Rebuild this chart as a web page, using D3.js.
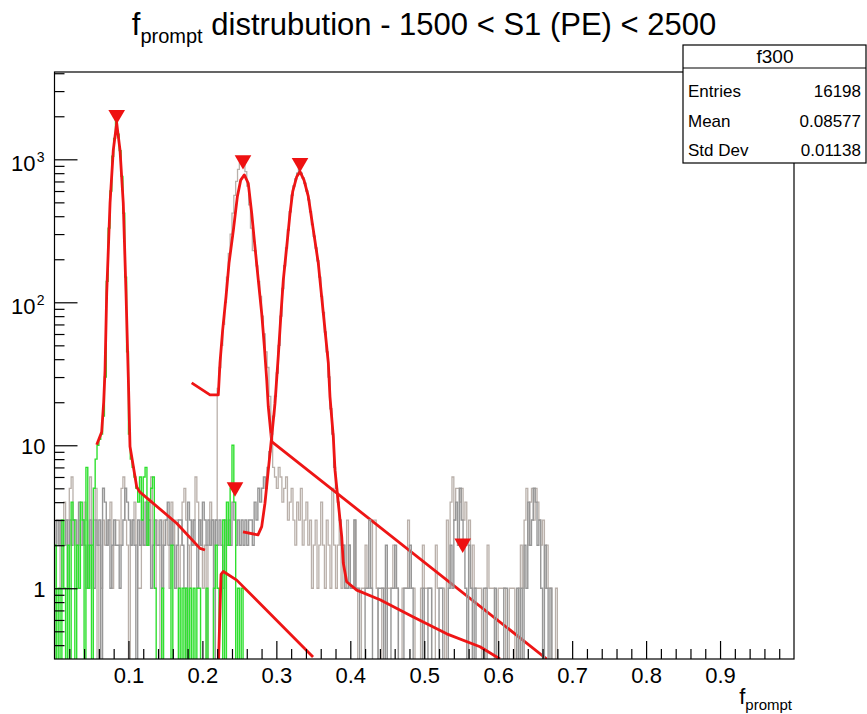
<!DOCTYPE html>
<html>
<head>
<meta charset="utf-8">
<script src="https://cdn.jsdelivr.net/npm/d3@7"></script>
<style>
  body { margin: 0; background: #fff; }
  text { font-family: "Liberation Sans", Arial, Helvetica, sans-serif; }
</style>
</head>
<body>
<svg id="chart"></svg>
<script>
// histogram bins: width 0.0025 starting at 0
const binWidth = 0.0025;

const greenCounts = [
  2, 0, 1, 0, 3, 1, 0, 2, 0, 4, 3, 0, 2, 1, 4, 3, 0, 7, 1, 2, 0, 5,
  8, 10, 11, 12, 16, 30, 140, 330, 600, 1050, 1400, 2000, 1500, 1150, 760, 420, 150, 45, 12, 8, 7, 6, 5,
  4, 6, 3, 6, 7, 2, 4, 5, 6, 1,
  0, 0, 0, 1, 0, 0, 0, 0, 2, 0,
  0, 0, 1, 0, 1, 0, 1, 0, 1, 0,
  1, 0, 1, 1, 0, 0, 0, 1, 0, 0,
  0, 1, 2, 1, 0, 0, 3, 0, 4, 2,
  5, 10, 4, 0, 1, 0, 1, 0, 0
];

const lightCounts = [
  2, 3, 3, 1, 2, 4, 2, 3, 5, 6, 3, 2, 1, 3, 2, 2, 4, 3, 1, 6,
  2, 3, 5, 0, 2, 1, 3, 2, 2, 3, 4, 1, 2, 3, 3, 2, 5, 6, 3, 2,
  0, 2, 3, 4, 2, 1, 1, 3, 2, 2, 4, 3, 6, 2, 1, 3, 2, 0, 2, 3,
  3, 2, 1, 4, 2, 3, 3, 1, 2, 4, 5, 3, 2, 1, 2, 3, 6, 4, 2, 3,
  1, 2, 0, 2, 4, 3, 2, 3,
  25, 35, 50, 70, 100, 150, 220, 300, 420, 560, 700, 850, 960, 1000, 950, 820,
  650, 480, 330, 230, 230, 180, 140, 110, 80, 60, 45, 35, 22, 12, 7,
  6, 5, 7, 6, 4, 5, 6, 3, 4, 5, 3, 2, 4, 3, 5, 2, 3, 4, 2, 3, 1,
  2, 3, 1, 2, 4, 2, 1, 3, 2, 1, 5, 2, 1, 2, 3, 1, 2, 1, 3, 2,
  1, 1, 3, 1, 0, 0, 1, 1, 2, 1, 1, 1, 3, 3, 1, 0, 0, 1, 1, 1,
  1, 1, 1, 2, 1, 1, 0, 0, 1, 1, 1, 3, 1, 1, 1, 0, 0, 0, 1, 2,
  1, 1, 1, 1, 0, 0, 2, 1, 1, 1, 1, 0, 3, 1,
  4, 6, 3, 5, 5, 4, 5, 3, 4, 2, 3, 1, 2, 1,
  1, 1, 1, 0, 0, 1, 2, 1, 1, 1, 0, 0, 1, 1, 1, 1, 0, 0, 1, 1, 1, 0, 0, 1,
  2, 1, 3, 5, 2, 4, 5, 3, 5, 4, 3, 2, 3, 1, 2, 1,
  1, 0, 0, 1, 0, 0, 0, 0, 0, 0, 0, 0
];

const darkCounts = [
  2, 3, 2, 3, 2, 2, 3, 1, 3, 2, 3, 3, 2, 4, 2, 3, 2, 1, 2, 3,
  2, 1, 3, 2, 3, 0, 5, 4, 2, 3, 1, 2, 3, 2, 2, 1, 2, 3, 5, 4,
  3, 2, 3, 2, 0, 3, 2, 3, 2, 4, 2, 3, 1, 2, 3, 2, 2, 3, 1, 2,
  3, 4, 2, 3, 2, 1, 2, 3, 3, 2, 1, 0, 4, 3, 2, 3, 2, 1, 3, 2,
  4, 3, 2, 3, 2, 3, 0, 3,
  2, 3, 2, 1, 3, 2, 3, 2, 4, 3, 2, 3, 2, 3, 2, 3, 2, 3, 3, 2, 4, 3, 5, 4,
  5, 6, 5, 7, 9, 12, 16, 22, 32, 50, 80, 125, 180, 240, 320, 430, 560, 650, 730, 800,
  900, 800, 740, 680, 600, 520, 430, 350, 290, 240, 195, 150, 110, 85, 62, 45, 30, 18, 12, 7,
  5, 4, 3, 2, 2, 1,
  1, 2, 1, 1, 3, 1, 1, 0, 0, 0, 1, 1, 3, 1, 0, 0, 0, 1, 1, 1, 0, 2,
  0, 0, 1, 1, 2, 1, 0, 0, 0, 1, 1, 1, 2, 1, 0, 0, 0, 0, 0, 1,
  0, 0, 1, 1, 0, 0, 0, 0, 1, 1, 0, 0,
  0, 1, 2, 1, 3, 4, 2, 5, 3, 2, 1, 0, 2, 1, 0, 1,
  0, 0, 0, 0, 1, 1, 0, 0, 0, 0, 1, 0, 0, 0, 0, 1, 1, 0, 0, 0, 0, 0, 1, 0,
  1, 0, 2, 1, 4, 2, 3, 5, 4, 2, 3, 1, 0, 2, 1, 0, 1, 0, 0, 0,
  0, 0, 0, 0, 0, 0, 0, 0
];

// fit curves, [x, value]
const fitGreen = [
  [0.0571, 10.1], [0.0638, 12.4], [0.0665, 20], [0.0683, 33], [0.0706, 116],
  [0.0751, 493], [0.0795, 1160], [0.0841, 1790], [0.0886, 1160], [0.0930, 493],
  [0.0967, 116], [0.0998, 30], [0.1021, 9.8], [0.1066, 7.1], [0.1112, 5.1],
  [0.1156, 4.7], [0.1652, 2.85], [0.1968, 1.9], [0.2035, 1.85]
];
const fitPeak2 = [
  [0.1855, 27.3], [0.2103, 22.5], [0.2193, 22.5], [0.2215, 22.5], [0.2238, 37.7],
  [0.2274, 64], [0.2319, 109], [0.2360, 188], [0.2419, 320], [0.2473, 550],
  [0.2518, 715], [0.2567, 778], [0.2620, 680], [0.2667, 418], [0.2711, 244],
  [0.2756, 143], [0.2802, 83.7], [0.2838, 49], [0.2870, 28.6], [0.2891, 18.6],
  [0.2937, 10.6], [0.6656, 0.32]
];
const fitPeak3 = [
  [0.2549, 2.48], [0.2752, 2.36], [0.2802, 2.7], [0.2846, 3.93], [0.2891, 6.7],
  [0.2937, 11.5], [0.2982, 19.7], [0.3026, 42], [0.3063, 83.7], [0.3094, 143],
  [0.3140, 244], [0.3185, 418], [0.3221, 594], [0.3275, 755], [0.3320, 820],
  [0.3374, 715], [0.3432, 550], [0.3500, 320], [0.3567, 188], [0.3613, 109],
  [0.3658, 64], [0.3703, 37.5], [0.3725, 21.9], [0.3770, 11.5], [0.3793, 6.7],
  [0.3838, 3.93], [0.3884, 2.3], [0.3905, 1.5], [0.3951, 1.11], [0.4087, 0.97],
  [0.4402, 0.83], [0.4852, 0.63], [0.5304, 0.48], [0.5754, 0.39], [0.6024, 0.32]
];
const fitSmall = [
  [0.2219, 0.32], [0.2238, 0.7], [0.2252, 1.25], [0.2283, 1.31], [0.2464, 1.14],
  [0.3496, 0.33]
];

// peak markers
const peakX = [0.0841, 0.2549, 0.3320, 0.2441, 0.5520];
const peakY = [2050, 990, 946, 5.1, 2.06];

const xTicks = [0.1, 0.2, 0.3, 0.4, 0.5, 0.6, 0.7, 0.8, 0.9];
const yTicks = [1, 10, 100, 1000];
const yTickLabels = [["1", ""], ["10", ""], ["10", "2"], ["10", "3"]];

const statsTitle = "f300";
const statsNames = ["Entries", "Mean", "Std Dev"];
const statsValues = ["16198", "0.08577", "0.01138"];

const W = 867, H = 714;
const frame = { left: 54.5, right: 794, top: 72, bottom: 659 };

const svg = d3.select("#chart").attr("width", W).attr("height", H);

const x = d3.scaleLinear().domain([0, 1]).range([frame.left, frame.right]);
const y = d3.scaleLog().domain([0.32, 4080]).range([frame.bottom, frame.top]);

svg.append("defs").append("clipPath").attr("id", "clip")
  .append("rect")
  .attr("x", frame.left).attr("y", frame.top)
  .attr("width", frame.right - frame.left).attr("height", frame.bottom - frame.top);

const plot = svg.append("g").attr("clip-path", "url(#clip)");

function histPoints(counts) {
  const pts = [[0, 0.2]];
  counts.forEach((c, i) => pts.push([i * binWidth, Math.max(c, 0.2)]));
  pts.push([counts.length * binWidth, 0.2]);
  return pts;
}

const stepLine = d3.line()
  .x(d => x(d[0]))
  .y(d => y(d[1]))
  .curve(d3.curveStepAfter);

const fitLine = d3.line()
  .x(d => x(d[0]))
  .y(d => y(Math.max(d[1], 0.2)));

function drawHist(counts, color, w) {
  plot.append("path")
    .datum(histPoints(counts))
    .attr("d", stepLine)
    .attr("fill", "none")
    .attr("stroke", color)
    .attr("stroke-width", w);
}

function drawFit(pts) {
  plot.append("path")
    .datum(pts)
    .attr("d", fitLine)
    .attr("fill", "none")
    .attr("stroke", "#ee1515")
    .attr("stroke-width", 2.8)
    .attr("stroke-linejoin", "round");
}

drawHist(lightCounts, "#b9b0aa", 1.3);
drawFit(fitPeak2);
drawHist(darkCounts, "#979797", 1.4);
drawFit(fitPeak3);
drawHist(greenCounts, "#2fe02f", 1.4);
drawFit(fitSmall);
drawFit(fitGreen);

// triangle markers
plot.selectAll(".peak")
  .data(peakX.map((px, i) => [px, peakY[i]]))
  .enter()
  .append("path")
  .attr("class", "peak")
  .attr("d", d3.symbol().type(d3.symbolTriangle).size(120))
  .attr("transform", d => `translate(${x(d[0])},${y(d[1])}) rotate(180)`)
  .attr("fill", "#ee1111");

// frame
svg.append("rect")
  .attr("x", frame.left).attr("y", frame.top)
  .attr("width", frame.right - frame.left).attr("height", frame.bottom - frame.top)
  .attr("fill", "none").attr("stroke", "#000").attr("stroke-width", 1.2);

// x axis ticks (inside)
const xMinor = d3.range(1, 50).map(i => i * 0.02).filter(v => Math.abs(v * 10 - Math.round(v * 10)) > 1e-6);
svg.append("g")
  .attr("transform", `translate(0,${frame.bottom})`)
  .call(d3.axisBottom(x).tickValues(xMinor).tickSize(-10).tickFormat(""))
  .call(g => g.select(".domain").remove());
svg.append("g")
  .attr("transform", `translate(0,${frame.bottom})`)
  .call(d3.axisBottom(x).tickValues(xTicks).tickSize(-18).tickPadding(8).tickFormat(d3.format(".1f")))
  .call(g => g.select(".domain").remove())
  .call(g => g.selectAll("text").attr("font-size", 22).attr("fill", "#000")
    .attr("font-family", "'Liberation Sans', Arial, sans-serif"));
svg.selectAll(".tick line").attr("stroke", "#000").attr("stroke-width", 1.2);

// y axis ticks (inside)
const yMinor = [];
[0.1, 1, 10, 100, 1000].forEach(dec => {
  for (let k = 2; k <= 9; k++) {
    const v = dec * k;
    if (v > 0.32 && v < 4080) yMinor.push(v);
  }
});
svg.append("g")
  .attr("transform", `translate(${frame.left},0)`)
  .call(d3.axisLeft(y).tickValues(yMinor).tickSize(-10).tickFormat(""))
  .call(g => g.select(".domain").remove())
  .call(g => g.selectAll("line").attr("stroke", "#000").attr("stroke-width", 1.2));
const yAxisG = svg.append("g")
  .attr("transform", `translate(${frame.left},0)`)
  .call(d3.axisLeft(y).tickValues(yTicks).tickSize(-23).tickFormat(""))
  .call(g => g.select(".domain").remove())
  .call(g => g.selectAll("line").attr("stroke", "#000").attr("stroke-width", 1.2));

yAxisG.selectAll(".tick").each(function (d, i) {
  const lab = yTickLabels[i];
  const t = d3.select(this).append("text")
    .attr("x", -9)
    .attr("y", 8)
    .attr("text-anchor", "end")
    .attr("font-size", 22)
    .attr("fill", "#000");
  if (lab[1]) {
    t.attr("x", -19).attr("y", 11).text(lab[0]);
    d3.select(this).append("text")
      .attr("x", -10).attr("y", 2)
      .attr("text-anchor", "end")
      .attr("font-size", 14)
      .attr("fill", "#000")
      .text(lab[1]);
  } else {
    t.text(lab[0]);
  }
});

// title
const title = svg.append("text")
  .attr("x", 424).attr("y", 35)
  .attr("text-anchor", "middle")
  .attr("font-size", 31);
title.append("tspan").text("f");
title.append("tspan").attr("font-size", 20).attr("dy", 8).text("prompt");
title.append("tspan").attr("dy", -8).text(" distrubution - 1500 < S1 (PE) < 2500");

// x axis title
const xt = svg.append("text")
  .attr("x", 792).attr("y", 704)
  .attr("text-anchor", "end")
  .attr("font-size", 22);
xt.append("tspan").text("f");
xt.append("tspan").attr("font-size", 15).attr("dy", 6).text("prompt");

// stats box
const box = svg.append("g");
box.append("rect")
  .attr("x", 683).attr("y", 45).attr("width", 183).attr("height", 118)
  .attr("fill", "#fff").attr("stroke", "#000").attr("stroke-width", 1.2);
box.append("line")
  .attr("x1", 683).attr("x2", 866).attr("y1", 68).attr("y2", 68)
  .attr("stroke", "#000").attr("stroke-width", 1.2);
box.append("text")
  .attr("x", 775).attr("y", 63).attr("text-anchor", "middle")
  .attr("font-size", 19).text(statsTitle);
statsNames.forEach((name, i) => {
  box.append("text")
    .attr("x", 688).attr("y", 97 + i * 29.5)
    .attr("font-size", 17).text(name);
  box.append("text")
    .attr("x", 861).attr("y", 97 + i * 29.5)
    .attr("text-anchor", "end")
    .attr("font-size", 17).text(statsValues[i]);
});
</script>
</body>
</html>
